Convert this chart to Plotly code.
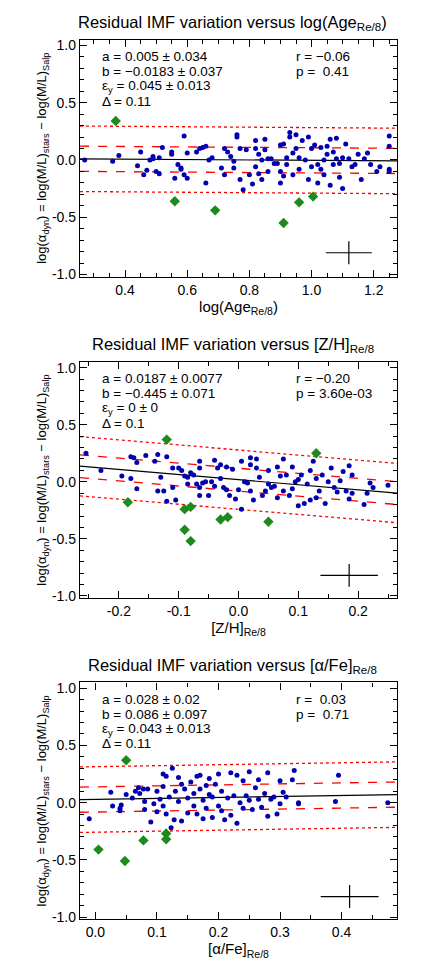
import plotly.graph_objects as go

# ---------------- data ----------------
age_x = [0.27,0.36,0.38,0.44,0.45,0.46,0.47,0.48,0.49,0.49,0.50,0.51,0.51,0.52,0.55,0.55,0.56,0.57,0.58,0.58,0.59,0.59,0.60,0.60,0.63,0.64,0.65,0.66,0.66,0.67,0.68,0.71,0.72,0.72,0.73,0.74,0.75,0.75,0.76,0.76,0.77,0.77,0.78,0.79,0.80,0.81,0.82,0.82,0.82,0.83,0.83,0.84,0.84,0.85,0.85,0.86,0.86,0.87,0.88,0.89,0.90,0.90,0.90,0.91,0.91,0.92,0.92,0.93,0.93,0.94,0.94,0.95,0.95,0.96,0.96,0.97,0.98,0.99,0.99,1.0,1.0,1.01,1.02,1.02,1.03,1.03,1.04,1.04,1.05,1.05,1.06,1.06,1.07,1.07,1.08,1.08,1.09,1.09,1.10,1.10,1.11,1.12,1.13,1.14,1.15,1.16,1.17,1.18,1.19,1.21,1.22,1.25,1.25,1.25,1.25]
age_y = [0.0,-0.01,0.04,-0.05,0.07,-0.13,-0.09,0.0,0.03,0.01,-0.1,-0.12,0.02,0.11,0.07,0.05,-0.16,-0.04,-0.07,-0.08,-0.13,0.21,-0.16,0.06,0.07,0.1,0.11,-0.2,0.12,0.0,0.02,-0.07,0.1,-0.13,0.07,0.03,-0.07,-0.01,0.22,0.2,-0.17,0.1,-0.26,0.09,-0.13,-0.21,0.17,0.1,-0.06,-0.12,0.05,0.0,-0.17,0.18,0.09,-0.1,0.01,0.01,-0.03,-0.03,-0.2,0.13,-0.1,-0.14,0.14,0.02,-0.04,0.24,0.2,-0.13,0.06,0.22,0.1,0.02,-0.08,0.17,0.0,-0.17,0.2,-0.06,0.1,0.13,-0.2,-0.04,0.11,-0.08,0.0,-0.13,0.12,0.05,-0.22,0.18,-0.04,0.07,0.19,0.01,-0.15,-0.03,-0.25,0.02,0.14,0.01,-0.06,-0.04,0.05,-0.17,0.01,0.06,-0.04,-0.1,-0.06,0.21,0.12,-0.08,-0.1]
age_out_x = [0.37,0.56,0.69,0.91,0.96,1.005]
age_out_y = [0.34,-0.36,-0.44,-0.55,-0.37,-0.32]

zh_x = [-0.255,-0.23,-0.195,-0.18,-0.18,-0.175,-0.17,-0.17,-0.155,-0.14,-0.135,-0.135,-0.13,-0.125,-0.12,-0.12,-0.11,-0.11,-0.105,-0.1,-0.095,-0.09,-0.085,-0.085,-0.08,-0.075,-0.07,-0.065,-0.065,-0.065,-0.065,-0.06,-0.055,-0.05,-0.045,-0.04,-0.04,-0.035,-0.03,-0.03,-0.025,-0.02,-0.02,-0.015,-0.01,-0.005,0.0,0.005,0.005,0.01,0.015,0.02,0.02,0.02,0.025,0.03,0.03,0.035,0.04,0.045,0.05,0.05,0.055,0.06,0.065,0.065,0.07,0.075,0.075,0.08,0.085,0.09,0.09,0.095,0.1,0.1,0.105,0.11,0.115,0.12,0.12,0.125,0.13,0.13,0.135,0.14,0.145,0.15,0.155,0.16,0.165,0.17,0.175,0.18,0.185,0.185,0.19,0.19,0.21,0.215,0.22,0.225,0.25]
zh_y = [0.25,0.1,0.05,0.22,0.03,0.21,0.17,-0.06,0.23,0.18,0.24,-0.08,0.04,-0.08,0.22,-0.17,0.12,-0.05,-0.16,0.12,0.1,0.05,0.04,-0.02,0.08,0.06,-0.02,0.18,0.12,-0.12,-0.05,-0.01,0.0,-0.12,0.0,0.19,-0.04,0.12,0.15,0.03,-0.05,0.13,-0.07,-0.12,0.11,-0.15,-0.07,0.18,-0.24,0.0,-0.01,0.21,0.15,-0.08,-0.16,0.2,0.12,0.04,-0.12,-0.08,0.1,-0.02,-0.05,-0.04,-0.14,0.13,0.05,0.2,-0.08,0.06,-0.12,0.13,-0.06,0.0,-0.21,0.02,0.06,-0.19,-0.02,-0.16,0.1,0.18,-0.14,0.03,-0.08,0.06,-0.19,0.0,0.12,-0.05,-0.09,0.01,0.09,-0.08,0.14,-0.15,0.06,-0.1,-0.2,-0.1,-0.01,-0.05,-0.03]
zh_out_x = [-0.12,0.13,-0.185,-0.09,-0.08,-0.09,-0.08,-0.03,-0.018,0.05]
zh_out_y = [0.37,0.25,-0.18,-0.24,-0.22,-0.42,-0.52,-0.33,-0.31,-0.35]

af_x = [-0.01,0.025,0.028,0.04,0.04,0.042,0.05,0.06,0.065,0.07,0.072,0.078,0.08,0.08,0.085,0.09,0.095,0.1,0.1,0.105,0.11,0.11,0.11,0.115,0.115,0.12,0.123,0.125,0.128,0.13,0.135,0.135,0.14,0.14,0.145,0.15,0.15,0.155,0.16,0.16,0.165,0.165,0.17,0.17,0.175,0.175,0.18,0.18,0.185,0.185,0.19,0.19,0.195,0.2,0.2,0.205,0.205,0.21,0.215,0.22,0.22,0.225,0.23,0.23,0.235,0.24,0.24,0.245,0.25,0.25,0.255,0.26,0.265,0.265,0.27,0.275,0.28,0.28,0.285,0.29,0.295,0.3,0.3,0.305,0.31,0.32,0.323,0.33,0.33,0.39,0.395,0.475]
af_y = [-0.14,0.09,-0.03,-0.05,-0.07,-0.02,0.07,0.04,0.1,0.13,0.08,0.12,0.01,-0.06,0.12,-0.17,-0.01,0.1,-0.08,0.03,0.25,0.14,-0.03,0.23,-0.1,0.05,-0.22,0.3,-0.15,0.1,0.22,0.01,0.16,-0.16,0.12,0.04,-0.09,0.18,0.08,-0.03,0.23,-0.1,0.12,0.24,0.02,-0.14,0.15,-0.05,0.07,0.21,-0.13,0.05,0.16,0.25,-0.03,0.1,-0.07,-0.15,0.04,0.26,-0.11,0.06,0.24,-0.18,0.0,0.19,-0.05,0.06,0.27,0.02,-0.06,0.13,0.2,0.03,-0.04,0.08,0.26,-0.12,0.03,0.05,-0.1,0.19,-0.01,0.09,0.05,0.2,0.28,-0.01,0.0,0.01,0.24,0.0]
af_out_x = [0.05,0.005,0.048,0.078,0.115,0.115]
af_out_y = [0.37,-0.41,-0.51,-0.33,-0.27,-0.32]

# fit parameters: intercept a, slope b, pivot, delta
fits = [(0.005, -0.0183, 0.55, 0.11), (0.0187, -0.445, 0.0, 0.10), (0.028, 0.086, 0.0, 0.11)]
xranges = [[0.255, 1.275], [-0.265, 0.265], [-0.025, 0.49]]
xticks = [[0.4, 0.6, 0.8, 1.0, 1.2], [-0.2, -0.1, 0.0, 0.1, 0.2], [0.0, 0.1, 0.2, 0.3, 0.4]]
xticktext = [["0.4","0.6","0.8","1.0","1.2"], ["-0.2","-0.1","0.0","0.1","0.2"], ["0.0","0.1","0.2","0.3","0.4"]]
yticks = [-1.0, -0.5, 0.0, 0.5, 1.0]
yticktext = ["-1.0", "-0.5", "0.0", "0.5", "1.0"]
crosses = [(1.12, -0.81, 0.074), (0.185, -0.82, 0.048), (0.413, -0.82, 0.047)]
titles = ["Residual IMF variation versus log(Age<sub>Re/8</sub>)",
          "Residual IMF variation versus [Z/H]<sub>Re/8</sub>",
          "Residual IMF variation versus [α/Fe]<sub>Re/8</sub>"]
xtitles = ["log(Age<sub>Re/8</sub>)", "[Z/H]<sub>Re/8</sub>", "[α/Fe]<sub>Re/8</sub>"]
stats_left = [["a = 0.005 ± 0.034", "b = −0.0183 ± 0.037", "ε<sub>y</sub> = 0.045 ± 0.013", "Δ = 0.11"],
              ["a = 0.0187 ± 0.0077", "b = −0.445 ± 0.071", "ε<sub>y</sub> = 0 ± 0", "Δ = 0.1"],
              ["a = 0.028 ± 0.02", "b = 0.086 ± 0.097", "ε<sub>y</sub> = 0.043 ± 0.013", "Δ = 0.11"]]
stats_right = [["r = −0.06", "p =  0.41"], ["r = −0.20", "p = 3.60e-03"], ["r =  0.03", "p =  0.71"]]
ytitle = "log(α<sub>dyn</sub>) = log(M/L)<sub>stars</sub> − log(M/L)<sub>Salp</sub>"

blue = [(age_x, age_y), (zh_x, zh_y), (af_x, af_y)]
green = [(age_out_x, age_out_y), (zh_out_x, zh_out_y), (af_out_x, af_out_y)]

# ---------------- figure ----------------
H, W = 969, 424
pix = [(30, 269), (355, 593), (678, 917)]
FONT = "Liberation Sans"
fig = go.Figure()
ann = []
for i in range(3):
    n = "" if i == 0 else str(i + 1)
    xa, ya = "x" + n, "y" + n
    a, b, piv, d = fits[i]
    x0, x1 = xranges[i]
    xs = [x0, x1]
    line = [a + b * (x - piv) for x in xs]
    for off, dash, col in [(0, "solid", "black"), (d, "dash", "red"), (-d, "dash", "red"),
                           (2.6 * d, "dot", "red"), (-2.6 * d, "dot", "red")]:
        fig.add_trace(go.Scatter(x=xs, y=[v + off for v in line], mode="lines", xaxis=xa, yaxis=ya,
                                 line=dict(color=col, dash=dash, width=1.3 if off else 1.2), showlegend=False))
    bx, by = blue[i]
    fig.add_trace(go.Scatter(x=bx, y=by, mode="markers", xaxis=xa, yaxis=ya, showlegend=False,
                             marker=dict(color="#0000b0", size=5)))
    gx, gy = green[i]
    fig.add_trace(go.Scatter(x=gx, y=gy, mode="markers", xaxis=xa, yaxis=ya, showlegend=False,
                             marker=dict(color="#1e8a1e", symbol="diamond", size=8)))
    cx, cy, hw = crosses[i]
    fig.add_trace(go.Scatter(x=[cx - hw, cx + hw, None, cx, cx], y=[cy, cy, None, cy - 0.1, cy + 0.1],
                             mode="lines", xaxis=xa, yaxis=ya, showlegend=False,
                             line=dict(color="black", width=1.2)))
    top, bot = pix[i]
    dom = [1 - bot / H, 1 - top / H]
    axcommon = dict(showline=True, linecolor="black", linewidth=1.3, mirror="ticks", ticks="inside",
                    ticklen=7, tickcolor="black", showgrid=False, zeroline=False,
                    tickfont=dict(family=FONT, size=14, color="black"),
                    minor=dict(ticks="inside", ticklen=4, tickcolor="black", nticks=5))
    fig.layout["xaxis" + n] = dict(axcommon, domain=[72 / W, 389 / W], range=xranges[i], anchor=ya,
                                   tickvals=xticks[i], ticktext=xticktext[i],
                                   title=dict(text=xtitles[i], font=dict(family=FONT, size=15, color="black"), standoff=4))
    fig.layout["yaxis" + n] = dict(axcommon, domain=dom, range=[-1.02, 1.05], anchor=xa,
                                   tickvals=yticks, ticktext=yticktext,
                                   title=dict(text=ytitle, font=dict(family=FONT, size=13, color="black"), standoff=2))
    ann.append(dict(text=titles[i], xref="paper", yref="paper", x=0.53, y=1 - (top - 17) / H,
                    xanchor="center", yanchor="middle", showarrow=False,
                    font=dict(family=FONT, size=16.5, color="black")))
    for k, t in enumerate(stats_left[i]):
        ann.append(dict(text=t, xref="paper", yref="paper", x=92 / W, y=1 - (top + 17 + 15 * k) / H,
                        xanchor="left", yanchor="middle", showarrow=False,
                        font=dict(family=FONT, size=13.5, color="black")))
    for k, t in enumerate(stats_right[i]):
        ann.append(dict(text=t, xref="paper", yref="paper", x=286 / W, y=1 - (top + 17 + 15 * k) / H,
                        xanchor="left", yanchor="middle", showarrow=False,
                        font=dict(family=FONT, size=13.5, color="black")))

fig.update_layout(width=W, height=H, margin=dict(l=0, r=0, t=0, b=0), annotations=ann,
                  plot_bgcolor="white", paper_bgcolor="white")
fig.write_html("out.html")
